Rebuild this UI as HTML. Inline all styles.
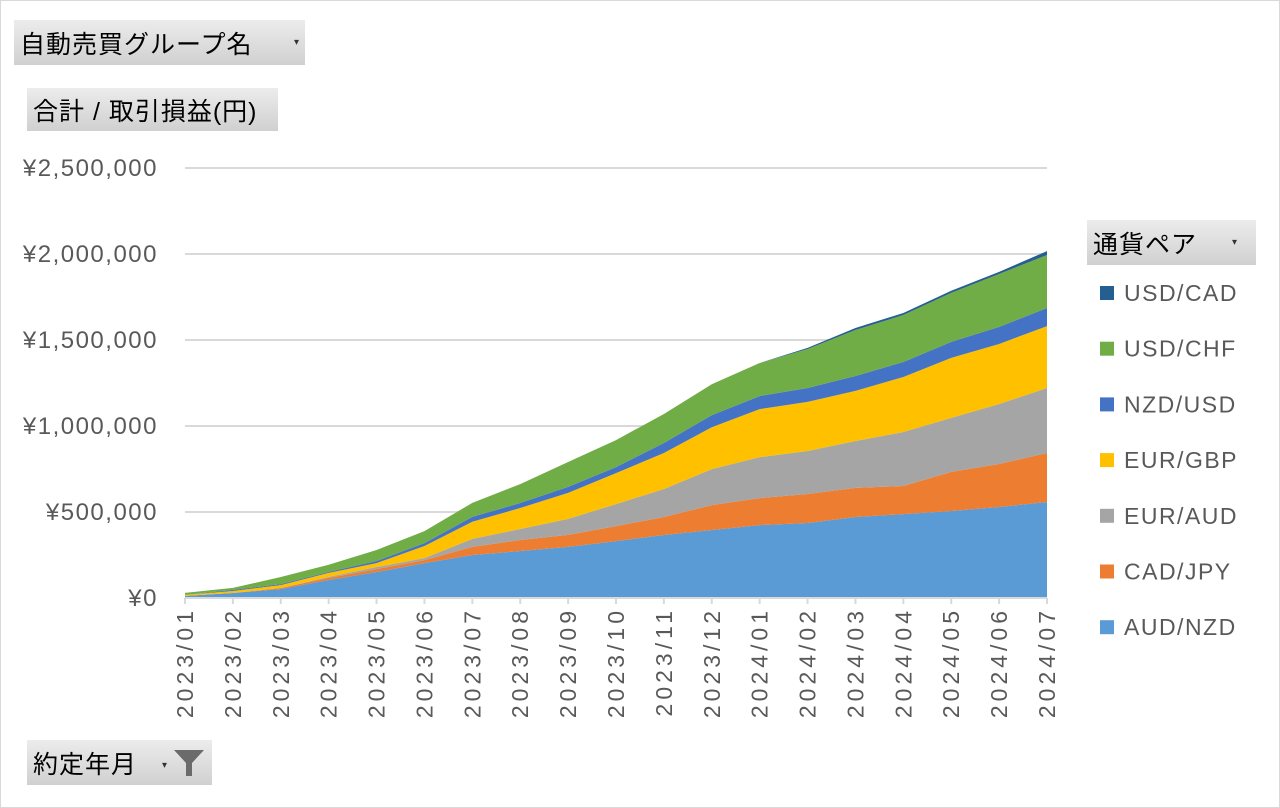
<!DOCTYPE html>
<html><head><meta charset="utf-8">
<style>
body{margin:0;width:1280px;height:808px;background:#fff;font-family:"Liberation Sans","Noto Sans CJK JP",sans-serif;overflow:hidden}
#frame{position:absolute;left:0;top:0;width:1278px;height:806px;border:1px solid #d9d9d9}
.btn{position:absolute;background:linear-gradient(#ececec,#d0d0d0);color:#000;font-size:25px;letter-spacing:1px;box-sizing:border-box;padding-left:6px;display:flex;align-items:center}
.dd{position:absolute;font-size:10px;color:#333}
</style></head><body>
<div id="frame"></div>
<div class="btn" style="left:14px;top:20px;width:291px;height:45px">自動売買グループ名<span class="dd" style="left:280px;top:17px">▾</span></div>
<div class="btn" style="left:27px;top:88px;width:251px;height:43px">合計 / 取引損益(円)</div>
<div class="btn" style="left:1087px;top:220px;width:169px;height:45px">通貨ペア<span class="dd" style="left:145px;top:17px">▾</span></div>
<div class="btn" style="left:27px;top:740px;width:185px;height:45px">約定年月<span class="dd" style="left:135px;top:20px">▾</span>
<svg style="position:absolute;left:146px;top:8px" width="32" height="30"><path d="M1 2 H31 L19 15 V28 L13 28 V15 Z" fill="#6b6b6b"/></svg></div>
<svg id="chart" width="1280" height="808" style="position:absolute;left:0;top:0;pointer-events:none"></svg>
<script>
const categories=["2023/01","2023/02","2023/03","2023/04","2023/05","2023/06","2023/07","2023/08","2023/09","2023/10","2023/11","2023/12","2024/01","2024/02","2024/03","2024/04","2024/05","2024/06","2024/07"];
const seriesNames=["AUD/NZD","CAD/JPY","EUR/AUD","EUR/GBP","NZD/USD","USD/CHF","USD/CAD"];
const audNzd=[12000,29000,52000,105000,151000,203000,250000,273000,297000,331000,366000,395000,424000,436000,471000,488000,506000,529000,558000];
const cadJpy=[0,0,6000,12000,17000,17000,47000,64000,70000,87000,105000,145000,157000,169000,169000,163000,227000,250000,285000];
const eurAud=[0,0,0,6000,12000,12000,47000,64000,93000,128000,163000,209000,238000,250000,273000,314000,314000,349000,378000];
const eurGbp=[6000,12000,17000,23000,23000,70000,99000,122000,151000,180000,209000,244000,279000,285000,291000,320000,349000,349000,360000];
const nzdUsd=[0,6000,6000,6000,12000,17000,29000,29000,35000,35000,58000,70000,76000,81000,87000,87000,93000,99000,105000];
const usdChf=[12000,12000,41000,41000,64000,70000,81000,110000,145000,157000,169000,180000,192000,227000,267000,273000,285000,308000,308000];
const usdCad=[0,0,0,0,0,0,0,0,0,0,0,0,0,6000,12000,12000,12000,12000,23000];
const yTicks=[0,500000,1000000,1500000,2000000,2500000];
const yTickLabels=["¥0","¥500,000","¥1,000,000","¥1,500,000","¥2,000,000","¥2,500,000"];
const colors=["#5b9bd5","#ed7d31","#a5a5a5","#ffc000","#4472c4","#70ad47","#255e91"];
const series=[audNzd,cadJpy,eurAud,eurGbp,nzdUsd,usdChf,usdCad];
const NS="http://www.w3.org/2000/svg";
const svg=document.getElementById('chart');
const X0=185,X1=1047,Y0=598,Y1=168,YMAX=2500000;
const xs=i=>X0+(X1-X0)*i/(categories.length-1);
const ys=v=>Y0-(Y0-Y1)*v/YMAX;
function mk(t,a){const e=document.createElementNS(NS,t);for(const k in a)e.setAttribute(k,a[k]);svg.appendChild(e);return e;}
yTicks.forEach((v,i)=>{
  const l=mk('line',{x1:X0,x2:X1,y1:ys(v),y2:ys(v),stroke:'#d9d9d9','stroke-width':2});
  
  
  const t=mk('text',{x:158,y:ys(v)+8,'text-anchor':'end','font-size':24,'letter-spacing':1.5,fill:'#595959'});
  t.textContent=yTickLabels[i];
  
  
});
let cum=categories.map(()=>0);
series.forEach((s,k)=>{
  const lower=cum.slice();
  cum=cum.map((c,i)=>c+s[i]);
  let d='';
  cum.forEach((c,i)=>{d+=(i?'L':'M')+xs(i)+' '+ys(c);});
  for(let i=lower.length-1;i>=0;i--)d+='L'+xs(i)+' '+ys(lower[i]);
  const p=mk('path',{d:d+'Z',fill:colors[k]});
  
  
});
mk('line',{x1:X0,x2:X1,y1:Y0,y2:Y0,stroke:'#d9d9d9','stroke-width':2});
categories.forEach((c,i)=>{
  const tk=mk('line',{x1:xs(i),x2:xs(i),y1:Y0,y2:Y0+6,stroke:'#d9d9d9','stroke-width':2});
  
  
  const t=mk('text',{transform:`translate(${xs(i)+8},607) rotate(-90)`,'text-anchor':'end','font-size':23,'letter-spacing':4,fill:'#595959'});
  t.textContent=c;
  
  
});
for(let k=seriesNames.length-1;k>=0;k--){
  const row=seriesNames.length-1-k;
  const y=293+row*55.7;
  const r=mk('rect',{x:1100,y:y-7,width:14,height:14,fill:colors[k]});
  
  
  const t=mk('text',{x:1124,y:y+8,'font-size':23,'letter-spacing':1.5,fill:'#595959'});
  t.textContent=seriesNames[k];
  
  
}
</script>
</body></html>
